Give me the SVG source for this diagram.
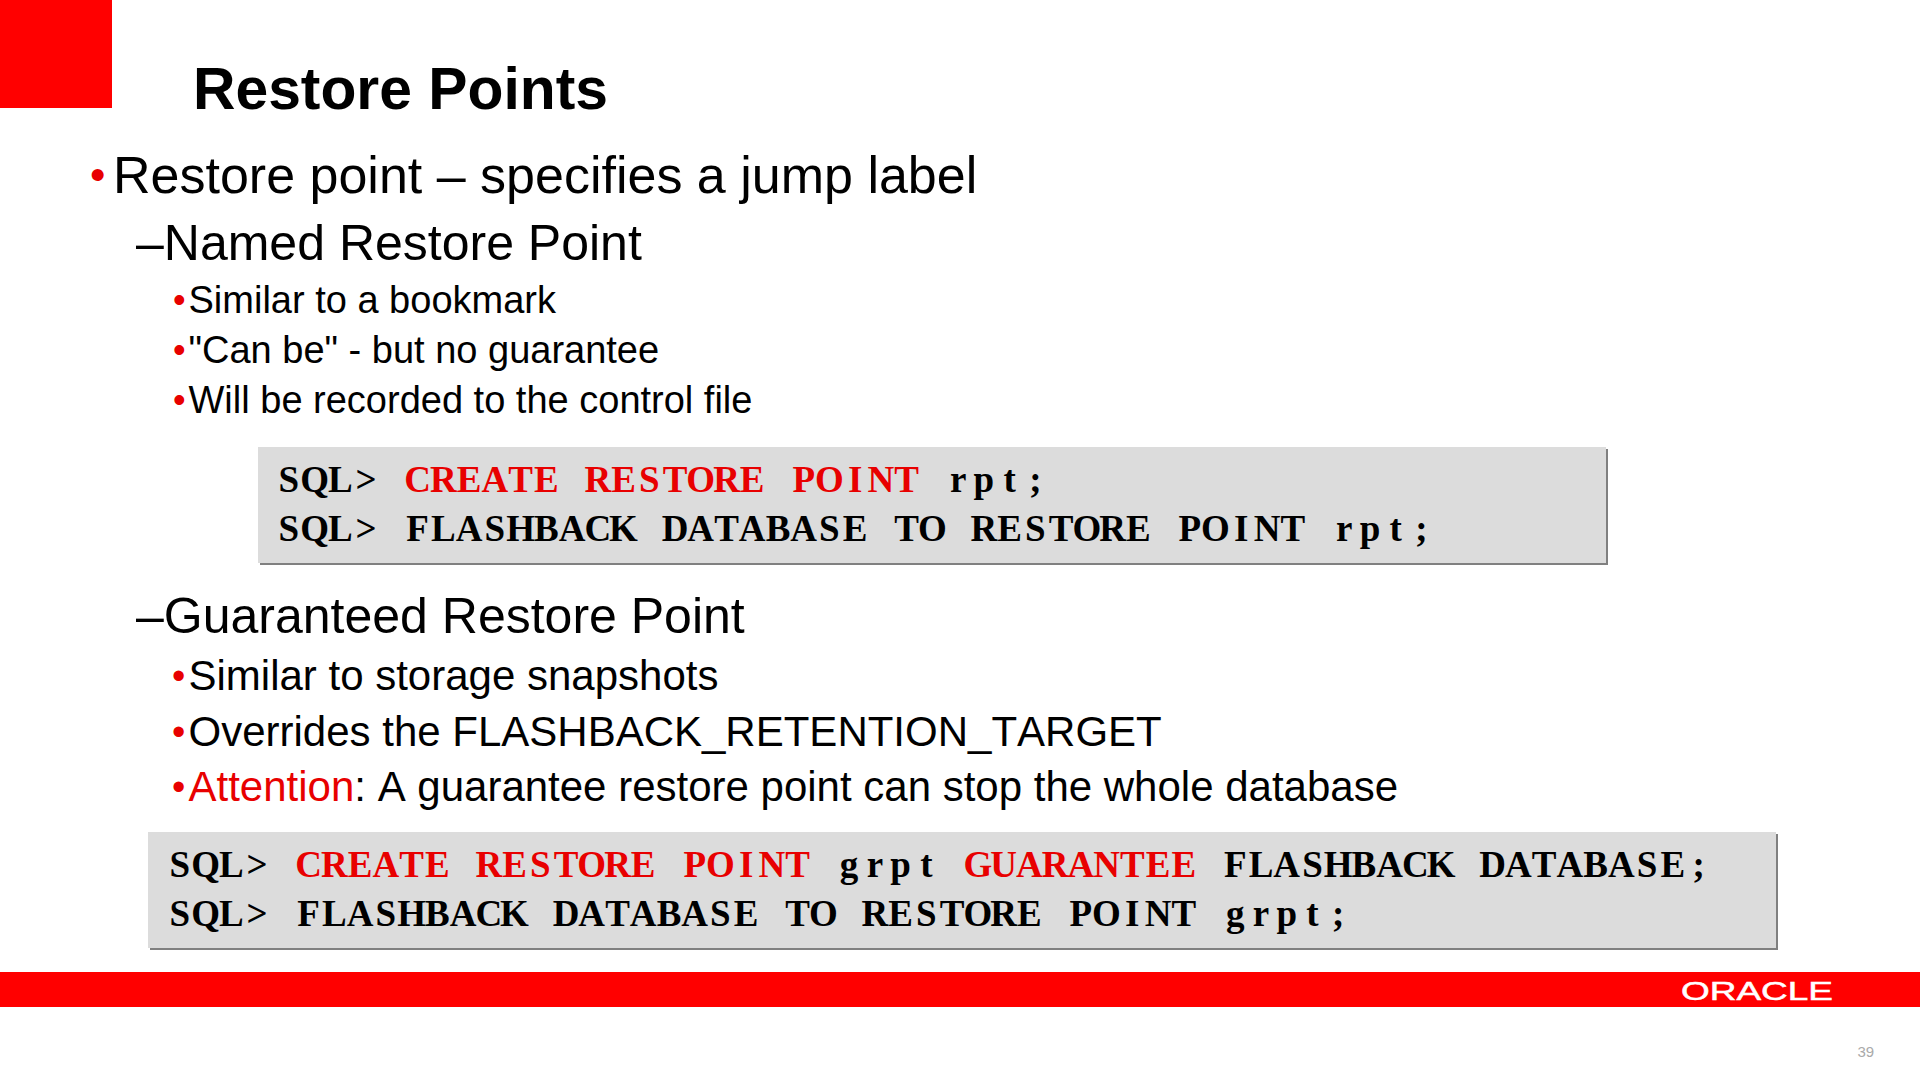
<svg xmlns="http://www.w3.org/2000/svg" width="1920" height="1080" viewBox="0 0 1920 1080">
<style>
text{font-family:"Liberation Sans",Arial,sans-serif;fill:#000}
.r{fill:#e80000}
.t{font-weight:bold;font-size:58.8px}
.l1{font-size:52px}
.l2{font-size:50px}
.l3{font-size:38px}
.l3b{font-size:42px;font-kerning:none}
.b1{font-size:44px;fill:#e80000}
.b3{font-size:36px;fill:#e80000}
.b3b{font-size:38px;fill:#e80000}
.c{font-family:"Liberation Serif",serif;font-weight:bold;font-size:37px;text-anchor:middle;white-space:pre}
.box{fill:#dcdcdc}
.sh{fill:#808080}
</style>
<rect width="1920" height="1080" fill="#fff"/>
<rect id="corner" width="112" height="108" fill="#f00"/>
<g id="title"><text class="t" x="193" y="109">Restore Points</text></g>
<g id="bullets">
<text class="b1" x="90" y="190">•</text>
<text class="l1" x="113" y="192.5">Restore point – specifies a jump label</text>
<text class="l2" x="136" y="259.5">–Named Restore Point</text>
<text class="b3" x="173" y="312">•</text>
<text class="l3" x="188.5" y="312.5">Similar to a bookmark</text>
<text class="b3" x="173" y="362">•</text>
<text class="l3" x="188.5" y="362.5">"Can be" - but no guarantee</text>
<text class="b3" x="173" y="412">•</text>
<text class="l3" x="188.5" y="412.5">Will be recorded to the control file</text>
<text class="l2" x="136" y="632.5">–Guaranteed Restore Point</text>
<text class="b3b" x="172" y="689">•</text>
<text class="l3b" x="188.5" y="690">Similar to storage snapshots</text>
<text class="b3b" x="172" y="744.5">•</text>
<text class="l3b" x="188.5" y="745.5">Overrides the FLASHBACK_RETENTION_TARGET</text>
<text class="b3b" x="172" y="800">•</text>
<text class="l3b" x="188.5" y="801"><tspan class="r">Attention</tspan>: A guarantee restore point can stop the whole database</text>
</g>
<g id="code1">
<rect class="sh" x="260" y="449" width="1348" height="116"/>
<rect class="box" x="258" y="447" width="1348" height="116"/>
<text class="c" transform="translate(276 492)" xml:space="preserve" x="12.9 38.6 64.4 90.1 115.8 141.6 167.3 193.1 218.8 244.6 270.3 296 321.8 347.5 373.3 399 424.7 450.5 476.2 502 527.7 553.4 579.2 604.9 630.7 656.4 682.1 707.9 733.6 759.4" y="0">SQL&gt; <tspan class="r">CREATE RESTORE POINT</tspan> rpt;</text>
<text class="c" transform="translate(276 541)" xml:space="preserve" x="12.9 38.6 64.4 90.1 115.8 141.6 167.3 193.1 218.8 244.6 270.3 296 321.8 347.5 373.3 399 424.7 450.5 476.2 502 527.7 553.4 579.2 604.9 630.7 656.4 682.1 707.9 733.6 759.4 785.1 810.8 836.6 862.3 888.1 913.8 939.5 965.3 991 1016.8 1042.5 1068.2 1094 1119.7 1145.5" y="0">SQL&gt; FLASHBACK DATABASE TO RESTORE POINT rpt;</text>
</g>
<g id="code2">
<rect class="sh" x="150" y="834" width="1628" height="116"/>
<rect class="box" x="148" y="832" width="1628" height="116"/>
<text class="c" transform="translate(167 877)" xml:space="preserve" x="12.9 38.6 64.4 90.1 115.8 141.6 167.3 193.1 218.8 244.6 270.3 296 321.8 347.5 373.3 399 424.7 450.5 476.2 502 527.7 553.4 579.2 604.9 630.7 656.4 682.1 707.9 733.6 759.4 785.1 810.8 836.6 862.3 888.1 913.8 939.5 965.3 991 1016.8 1042.5 1068.2 1094 1119.7 1145.5 1171.2 1196.9 1222.7 1248.4 1274.2 1299.9 1325.6 1351.4 1377.1 1402.9 1428.6 1454.3 1480.1 1505.8 1531.6" y="0">SQL&gt; <tspan class="r">CREATE RESTORE POINT</tspan> grpt <tspan class="r">GUARANTEE</tspan> FLASHBACK DATABASE;</text>
<text class="c" transform="translate(167 926)" xml:space="preserve" x="12.9 38.6 64.4 90.1 115.8 141.6 167.3 193.1 218.8 244.6 270.3 296 321.8 347.5 373.3 399 424.7 450.5 476.2 502 527.7 553.4 579.2 604.9 630.7 656.4 682.1 707.9 733.6 759.4 785.1 810.8 836.6 862.3 888.1 913.8 939.5 965.3 991 1016.8 1042.5 1068.2 1094 1119.7 1145.5 1171.2" y="0">SQL&gt; FLASHBACK DATABASE TO RESTORE POINT grpt;</text>
</g>
<g id="footer">
<rect y="972" width="1920" height="35" fill="#f00"/>
<text x="1681" y="999.5" font-size="25.5" textLength="152" lengthAdjust="spacingAndGlyphs" style="fill:#fff;stroke:#fff;stroke-width:.5">ORACLE</text>
<text x="1857.5" y="1057" font-size="15" style="fill:#aaa">39</text>
</g>
</svg>
